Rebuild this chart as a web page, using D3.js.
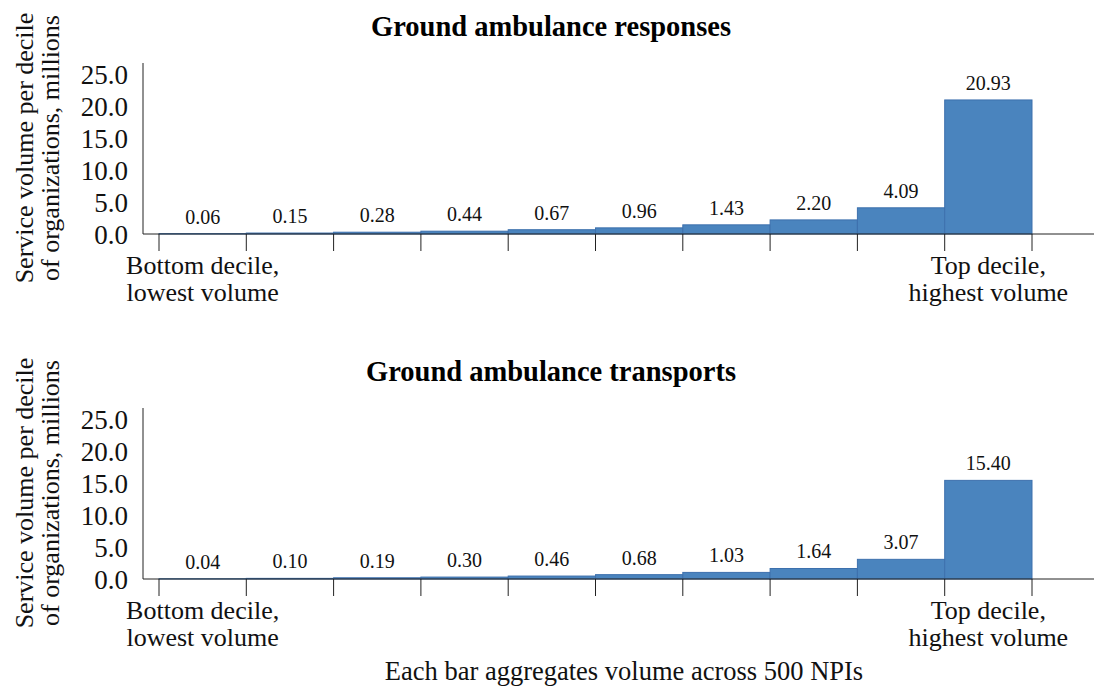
<!DOCTYPE html>
<html>
<head>
<meta charset="utf-8">
<style>
  body { margin: 0; background: #fff; }
</style>
</head>
<body>
<svg width="1094" height="686"></svg>
<script src="https://d3js.org/d3.v7.min.js"></script>
<script>
var deciles = [1, 2, 3, 4, 5, 6, 7, 8, 9, 10];
var responses = [0.06, 0.15, 0.28, 0.44, 0.67, 0.96, 1.43, 2.20, 4.09, 20.93];
var transports = [0.04, 0.10, 0.19, 0.30, 0.46, 0.68, 1.03, 1.64, 3.07, 15.40];
var yTicks = [0, 5, 10, 15, 20, 25];
var panelTitles = ['Ground ambulance responses', 'Ground ambulance transports'];

var serif = '"Liberation Serif", "Times New Roman", serif';
var svg = d3.select('svg');
var left = 159, right = 1032;
var xScale = d3.scaleBand().domain(deciles).range([left, right]).padding(0);

function drawPanel(values, title, base) {
  var g = svg.append('g');
  var yScale = d3.scaleLinear().domain([0, 26.7]).range([base, base - 171]);

  g.append('text')
    .attr('x', 551).attr('y', base - 198)
    .attr('text-anchor', 'middle')
    .style('font-family', serif)
    .style('font-size', '28.5px').style('font-weight', 'bold')
    .attr('fill', '#000')
    .text(title);

  // y axis title
  var yt = g.append('text')
    .attr('transform', 'translate(33,' + (base - 86) + ') rotate(-90)')
    .attr('text-anchor', 'middle')
    .style('font-family', serif)
    .style('font-size', '26px')
    .attr('fill', '#111');
  yt.append('tspan').attr('x', 0).attr('y', 0).text('Service volume per decile');
  yt.append('tspan').attr('x', 0).attr('y', 26).text('of organizations, millions');

  // bars
  g.selectAll('rect')
    .data(values)
    .enter()
    .append('rect')
      .attr('x', function(d, i) { return xScale(deciles[i]); })
      .attr('y', function(d) { return yScale(d); })
      .attr('width', xScale.bandwidth())
      .attr('height', function(d) { return base - yScale(d); })
      .attr('fill', '#4a84be')
      .attr('stroke', '#3d70ad')
      .attr('stroke-width', 1);

  g.selectAll('text.val')
    .data(values)
    .enter()
    .append('text')
      .attr('class', 'val')
      .attr('x', function(d, i) { return xScale(deciles[i]) + xScale.bandwidth() / 2; })
      .attr('y', function(d) { return yScale(d) - 10; })
      .attr('text-anchor', 'middle')
      .style('font-family', serif)
      .style('font-size', '20px')
      .attr('fill', '#111')
      .text(function(d) { return d.toFixed(2); });

  // y axis
  var yAxis = g.append('g')
    .attr('transform', 'translate(143,0)')
    .call(d3.axisLeft(yScale).tickValues(yTicks).tickSize(0).tickPadding(15)
      .tickFormat(d3.format('.1f')));
  yAxis.select('.domain').attr('d', 'M0,' + (base - 171) + 'V' + base).attr('stroke', '#222');
  yAxis.selectAll('text')
    .style('font-size', '27px').style('font-family', serif)
    .attr('fill', '#111').attr('dy', '0.36em');

  // x baseline and ticks
  g.append('line')
    .attr('x1', 143).attr('x2', 1094).attr('y1', base).attr('y2', base)
    .attr('stroke', '#222');
  var edges = deciles.map(function(d) { return xScale(d); }).concat([right]);
  g.selectAll('line.tk')
    .data(edges)
    .enter()
    .append('line')
      .attr('class', 'tk')
      .attr('x1', function(d) { return d; }).attr('x2', function(d) { return d; })
      .attr('y1', base).attr('y2', base + 17)
      .attr('stroke', '#222');

  var ends = [
    { i: 0, lines: ['Bottom decile,', 'lowest volume'] },
    { i: 9, lines: ['Top decile,', 'highest volume'] }
  ];
  ends.forEach(function(e) {
    var cx = xScale(deciles[e.i]) + xScale.bandwidth() / 2;
    e.lines.forEach(function(line, k) {
      g.append('text')
        .attr('x', cx).attr('y', base + 40 + k * 27)
        .attr('text-anchor', 'middle')
        .style('font-family', serif)
        .style('font-size', '26px')
        .attr('fill', '#111')
        .text(line);
    });
  });
}

drawPanel(responses, panelTitles[0], 234);
drawPanel(transports, panelTitles[1], 579);

svg.append('text')
  .attr('x', 624).attr('y', 680)
  .attr('text-anchor', 'middle')
  .style('font-family', serif)
  .style('font-size', '26.5px')
  .attr('fill', '#111')
  .text('Each bar aggregates volume across 500 NPIs');
</script>
</body>
</html>
